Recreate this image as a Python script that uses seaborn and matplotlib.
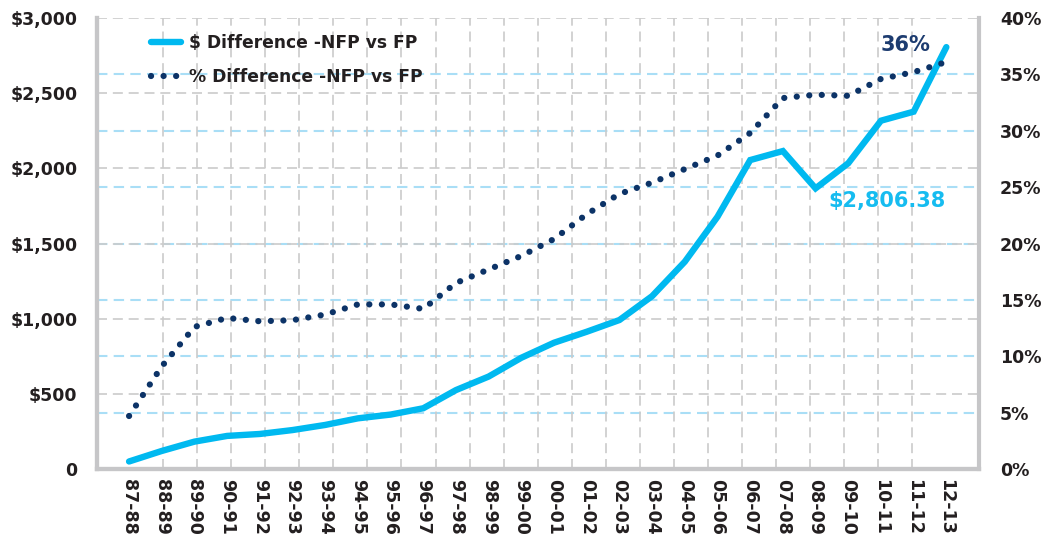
import numpy as np
import pandas as pd
import matplotlib
matplotlib.use("Agg")
import matplotlib.pyplot as plt
import seaborn as sns
from matplotlib.lines import Line2D

# ---- data ----
years = ["87-88", "88-89", "89-90", "90-91", "91-92", "92-93", "93-94", "94-95",
         "95-96", "96-97", "97-98", "98-99", "99-00", "00-01", "01-02", "02-03",
         "03-04", "04-05", "05-06", "06-07", "07-08", "08-09", "09-10", "10-11",
         "11-12", "12-13"]
usd_diff = [50, 120, 182, 220, 233, 259, 293, 337, 362, 404, 525, 615, 740, 840,
            913, 991, 1150, 1379, 1678, 2055, 2115, 1867, 2034, 2317, 2377, 2806.38]
pct_diff = [4.7, 9.1, 12.6, 13.4, 13.1, 13.2, 13.7, 14.6, 14.6, 14.2, 16.5, 17.7,
            18.9, 20.4, 22.6, 24.4, 25.4, 26.6, 27.8, 29.8, 32.9, 33.2, 33.1, 34.6,
            35.2, 36.1]
usd_ticks = [0, 500, 1000, 1500, 2000, 2500, 3000]
usd_tick_labels = ["0", "$500", "$1,000", "$1,500", "$2,000", "$2,500", "$3,000"]
pct_ticks = [0, 5, 10, 15, 20, 25, 30, 35, 40]
pct_tick_labels = ["0%", "5%", "10%", "15%", "20%", "25%", "30%", "35%", "40%"]
label_usd = "$ Difference -NFP vs FP"
label_pct = "% Difference -NFP vs FP"

df = pd.DataFrame({"idx": np.arange(len(years)), "year": years,
                   "usd": usd_diff, "pct": pct_diff})

# ---- style ----
sns.set_theme(style="white")
plt.rcParams["font.family"] = ["DejaVu Sans"]
plt.rcParams["font.weight"] = "bold"

CYAN = "#00b9f0"
NAVY = "#0c3367"
TXT = "#231f20"
GRAY = "#cbcbcb"
LBLUE = "#a9def6"
SPINE = "#c6c6c8"
DOTS = (0, (0.01, 2.0))

fig = plt.figure(figsize=(10.49, 5.41), dpi=100)
ax = fig.add_axes([0.0925, 0.1331, 0.8408, 0.8336])

usd_max, pct_max = usd_ticks[-1], pct_ticks[-1]

# grid lines (all on the base axes so the data lines sit above them)
ax.set_xlim(-0.98, 26.0)
ax.set_ylim(0, usd_max)
ax.set_xticks(np.linspace(0, len(years) - 1, len(years) - 1), minor=True)
ax.grid(which="minor", axis="x", color=GRAY, lw=1.2, dashes=(6, 3.5), zorder=0)
ax.grid(which="major", axis="x", visible=False)
ax.set_yticks(usd_ticks)
ax.grid(which="major", axis="y", color=GRAY, lw=1.2, dashes=(6, 3.5), zorder=0)
for t in pct_ticks[1:-1]:
    ax.axhline(t / pct_max * usd_max, color=LBLUE, lw=1.5, dashes=(5, 3), zorder=0.5)

sns.lineplot(data=df, x="idx", y="usd", ax=ax, color=CYAN, lw=4.6,
             solid_joinstyle="miter", zorder=3, legend=False)

ax2 = ax.twinx()
ax2.set_ylim(0, pct_max)
sns.lineplot(data=df, x="idx", y="pct", ax=ax2, color=NAVY, lw=4.5,
             linestyle=DOTS, dash_capstyle="round", zorder=3, legend=False)
ax2.grid(False)

# ticks
ax.set_xticks(df["idx"])
ax.set_xticklabels(years, rotation=-90, ha="center", va="top")
ax.set_yticklabels(usd_tick_labels)
ax.tick_params(axis="x", which="both", length=0, pad=7, labelsize=12.5, labelcolor=TXT)
ax.tick_params(axis="y", length=0, pad=14, labelsize=12.5, labelcolor=TXT)
ax2.set_yticks(pct_ticks)
ax2.set_yticklabels(pct_tick_labels)
ax2.tick_params(axis="y", length=0, pad=15, labelsize=12.5, labelcolor=TXT)
for a in (ax, ax2):
    a.set_xlabel("")
    a.set_ylabel("")

# spines
for a in (ax, ax2):
    a.spines["top"].set_visible(False)
    for s in ("left", "right", "bottom"):
        a.spines[s].set_color(SPINE)
        a.spines[s].set_linewidth(3)
ax.spines["right"].set_visible(False)

# legend
handles = [Line2D([], [], color=CYAN, lw=4.6),
           Line2D([], [], color=NAVY, lw=4.5, linestyle=DOTS, dash_capstyle="round")]
leg = ax2.legend(handles, [label_usd, label_pct], loc="upper left",
                 bbox_to_anchor=(0.061, 0.964), frameon=False, fontsize=12.3,
                 handlelength=1.75, handletextpad=0.5, labelspacing=0.93,
                 borderaxespad=0, borderpad=0)
for t in leg.get_texts():
    t.set_color(TXT)

# annotations
last = len(years) - 1
ax2.annotate(f"{round(pct_diff[-1])}%", xy=(last, pct_diff[-1]), xytext=(-29.5, 12.5),
             textcoords="offset points", ha="center", va="center",
             fontsize=15, color="#1d3c70", fontweight="bold")
ax.annotate(f"${usd_diff[-1]:,.2f}", xy=(last, usd_diff[-1]), xytext=(-43, -111),
            textcoords="offset points", ha="center", va="center",
            fontsize=15, color="#16bcf0", fontweight="bold")

fig.savefig("out.png", dpi=100, facecolor="white")
